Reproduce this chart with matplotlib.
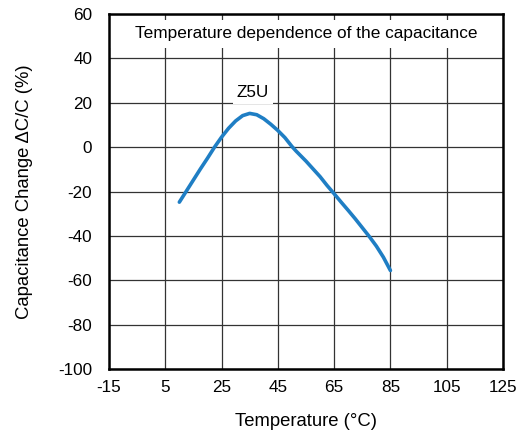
import matplotlib.pyplot as plt
from matplotlib.patches import Rectangle

plt.rcParams['font.family'] = ['Liberation Sans', 'DejaVu Sans']
plt.rcParams['axes.unicode_minus'] = False

# Data (Z5U)
temp_c = [10, 12.5, 15, 17.5, 20, 22.5, 25, 27.5, 30, 32.5, 35, 37.5, 40, 42.5,
          45, 47.5, 50, 51.5, 55, 57.5, 60, 62.5, 65, 67.5, 70, 72.5, 75, 77.5,
          80, 82.5, 85]
cap_change = [-24.8, -19.8, -14.8, -9.8, -5, 0, 4.5, 8.5, 11.8, 14.2, 15.2, 14.6,
              12.8, 10.3, 7.5, 4.3, 0.3, -1.8, -6.3, -9.8, -13.3, -17.3, -21,
              -24.8, -28.5, -32.3, -36.3, -40.3, -44.6, -49.6, -55.6]

x_ticks = [-15, 5, 25, 45, 65, 85, 105, 125]
y_ticks = [-100, -80, -60, -40, -20, 0, 20, 40, 60]

fig = plt.figure(figsize=(5.17, 4.32), dpi=100)
ax = fig.add_axes([0.2108, 0.1458, 0.7621, 0.8218])

ax.set_xlim(-15, 125)
ax.set_ylim(-100, 60)
ax.set_xticks(x_ticks)
ax.set_yticks(y_ticks)
ax.grid(True, color='#333333', linewidth=0.9)
ax.set_axisbelow(True)
ax.tick_params(length=0, labelsize=12.3)
ax.tick_params(axis='y', pad=12)
ax.tick_params(axis='x', pad=8)

for s in ax.spines.values():
    s.set_linewidth(1.8)
    s.set_zorder(5)

# white title band over the grid
ax.add_patch(Rectangle((-15, 44.7), 140, 12.6, facecolor='white', edgecolor='none', zorder=2))
ax.text(55, 51.2, 'Temperature dependence of the capacitance', ha='center', va='center',
        fontsize=12.4, zorder=3)

ax.plot(temp_c, cap_change, color='#1f7ec4', linewidth=2.6, solid_capstyle='round',
        solid_joinstyle='round', zorder=4)

# curve label with white background
ax.text(36.2, 24.6, 'Z5U', ha='center', va='center', fontsize=12.3, zorder=3,
        bbox=dict(facecolor='white', edgecolor='none', pad=3))

ax.set_xlabel('Temperature (°C)', fontsize=13.3, labelpad=13)
ax.set_ylabel('Capacitance Change ΔC/C (%)', fontsize=13.3, labelpad=18)

fig.savefig('out.png', dpi=100)
